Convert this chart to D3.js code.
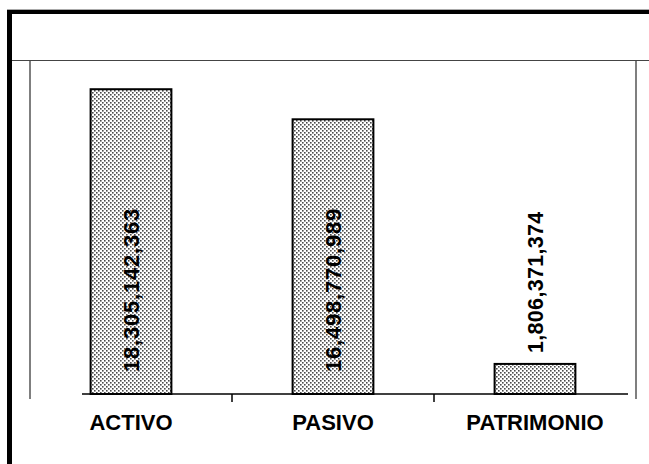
<!DOCTYPE html>
<meta charset="utf-8">
<script src="https://d3js.org/d3.v7.min.js"></script>
<style>
    body {margin: 0; background: #fff; font-family: 'Liberation Sans', Arial, sans-serif;}
</style>
<body>
<svg width="649" height="464"></svg>
<script>
    // data
    const categories = ["ACTIVO", "PASIVO", "PATRIMONIO"];
    const values = [18305142363, 16498770989, 1806371374];
    const labels = ["18,305,142,363", "16,498,770,989", "1,806,371,374"];
    const yMax = 20000000000;

    var svg = d3.select("svg");

    var plot = {left: 30, right: 636, top: 61, bottom: 394};

    var x = d3.scaleBand()
        .domain(categories)
        .range([plot.left, plot.right])
        .paddingInner(0.6)
        .paddingOuter(0.3);
    var y = d3.scaleLinear()
        .domain([0, yMax])
        .range([plot.bottom, plot.top]);

    // halftone fill like the print
    var pat = svg.append("defs").append("pattern")
        .attr("id", "dots")
        .attr("width", 4).attr("height", 4)
        .attr("patternUnits", "userSpaceOnUse");
    pat.append("rect").attr("width", 4).attr("height", 4).attr("fill", "#fff");
    pat.append("rect").attr("x", 0).attr("y", 0).attr("width", 1.6).attr("height", 1.6).attr("fill", "#4a4a4a");
    pat.append("rect").attr("x", 2).attr("y", 2).attr("width", 1.6).attr("height", 1.6).attr("fill", "#4a4a4a");

    // outer frame (cut by the page edge)
    svg.append("line").attr("x1", 7).attr("x2", 649).attr("y1", 9.5).attr("y2", 9.5)
        .style("stroke", "#aaa").style("stroke-width", 1);
    svg.append("line").attr("x1", 7).attr("x2", 649).attr("y1", 12).attr("y2", 12)
        .style("stroke", "#000").style("stroke-width", 4);
    svg.append("line").attr("x1", 9.5).attr("x2", 9.5).attr("y1", 10).attr("y2", 464)
        .style("stroke", "#000").style("stroke-width", 5);

    // title separator and plot sides
    svg.append("line").attr("x1", 12).attr("x2", 649).attr("y1", 60.5).attr("y2", 60.5)
        .style("stroke", "#444").style("stroke-width", 1);
    [plot.left, plot.right].forEach(function(px){
        svg.append("line").attr("x1", px).attr("x2", px).attr("y1", 61).attr("y2", 399)
            .style("stroke", "#555").style("stroke-width", 1.5);
    });

    // bars
    svg.append("g").selectAll("rect")
        .data(values)
        .enter().append("rect")
        .attr("x", function(d, i){return x(categories[i]);})
        .attr("y", function(d){return y(d);})
        .attr("width", x.bandwidth())
        .attr("height", function(d){return y(0) - y(d);})
        .attr("fill", "url(#dots)")
        .style("stroke", "#000")
        .style("stroke-width", 2);

    // baseline + separators between categories
    svg.append("line").attr("x1", 82).attr("x2", 628).attr("y1", y(0)).attr("y2", y(0))
        .style("stroke", "#000").style("stroke-width", 1.5);
    for (var i = 1; i < categories.length; i++){
        var tx = plot.left + i * (plot.right - plot.left) / categories.length;
        svg.append("line").attr("x1", tx).attr("x2", tx).attr("y1", y(0)).attr("y2", y(0) + 8)
            .style("stroke", "#000").style("stroke-width", 1.5);
    }

    // category labels
    var ax = svg.append("g")
        .attr("transform", "translate(0," + (y(0) + 20) + ")")
        .call(d3.axisBottom(x).tickSize(0).tickPadding(0));
    ax.select(".domain").remove();
    ax.selectAll("text")
        .attr("dy", "0.71em")
        .style("font-family", "'Liberation Sans', Arial, sans-serif")
        .style("font-size", "22px")
        .style("font-weight", "bold")
        .style("fill", "#000");

    // value labels, rotated (inside base when the bar is tall, else above)
    svg.append("g").selectAll("text")
        .data(values)
        .enter().append("text")
        .attr("transform", function(d, i){
            var cx = x(categories[i]) + x.bandwidth() / 2;
            var ty = (y(0) - y(d) > 200) ? y(0) - 22 : y(d) - 11;
            return "translate(" + cx + "," + ty + ") rotate(-90)";
        })
        .attr("dy", "0.36em")
        .style("font-family", "'Liberation Sans', Arial, sans-serif")
        .style("font-size", function(d){return (y(0) - y(d) > 200) ? "22px" : "21.5px";})
        .style("letter-spacing", function(d){return (y(0) - y(d) > 200) ? "0.8px" : "0.3px";})
        .style("font-weight", "bold")
        .style("fill", "#000")
        .text(function(d, i){return labels[i];});
</script>
</body>
